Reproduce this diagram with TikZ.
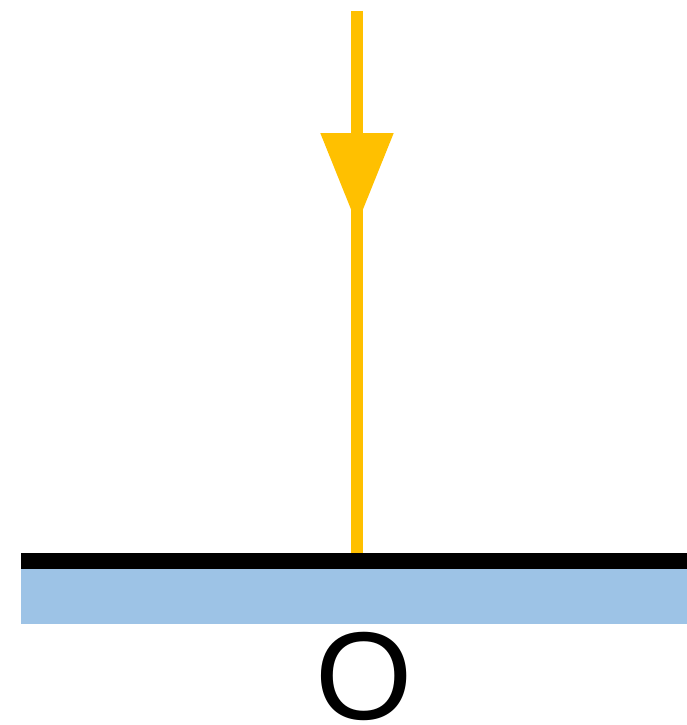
\documentclass[tikz,border=0pt]{standalone}
\usepackage{fontspec}
\setmainfont{Liberation Sans}
\usetikzlibrary{arrows.meta,positioning}
\definecolor{rayyellow}{RGB}{255,192,0}
\definecolor{surfblue}{RGB}{157,195,230}
\begin{document}
\begin{tikzpicture}[x=1pt, y=-1pt,
    ray/.style={rayyellow, line width=12pt}]
  \useasboundingbox (0,0) rectangle (687,725);
  \def\xl{21}\def\xr{687}\def\ys{553}
  % surface
  \fill[surfblue] (\xl,\ys+16) rectangle (\xr,624);
  \fill[black]    (\xl,\ys)    rectangle (\xr,\ys+16);
  % incident ray
  \coordinate (top)  at (357,11);
  \coordinate (mid)  at (357,225);
  \coordinate (back) at (357,170);
  \coordinate (foot) at (357,\ys);
  \draw[ray, -{Triangle[length=92pt, width=70pt]}] (top) -- (mid);
  \draw[ray] (back) -- (foot);
  \node[anchor=base, inner sep=0pt, font=\fontsize{125}{125}\selectfont] (O) at (364.5,719) {O};
\end{tikzpicture}
\end{document}
